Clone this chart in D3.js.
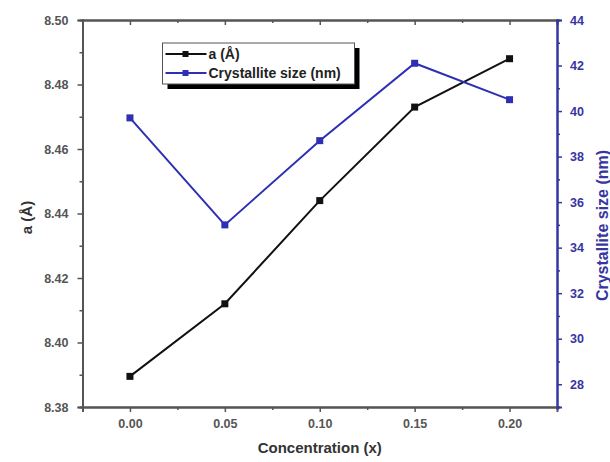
<!DOCTYPE html>
<html>
<head>
<meta charset="utf-8">
<script src="https://cdn.jsdelivr.net/npm/d3@7"></script>
<style>
  body { margin: 0; background: #fff; }
  text { font-family: "Liberation Sans", Arial, sans-serif; font-weight: bold; }
</style>
</head>
<body>
<div id="chart"></div>
<script>
// data
var concentration = [0.00, 0.05, 0.10, 0.15, 0.20];
var latticeA = [8.3895, 8.412, 8.444, 8.473, 8.488];
var crystalliteSize = [39.7, 35.0, 38.7, 42.1, 40.5];
var xTicks = [0.00, 0.05, 0.10, 0.15, 0.20];
var leftTicks = [8.38, 8.40, 8.42, 8.44, 8.46, 8.48, 8.50];
var rightTicks = [28, 30, 32, 34, 36, 38, 40, 42, 44];
var seriesNames = ["a (\u00c5)", "Crystallite size (nm)"];

var W = 610, H = 462;
var margin = {top: 20, right: 53, bottom: 55, left: 82.5};
var width = W - margin.left - margin.right;
var height = H - margin.top - margin.bottom;

var axisGrey = "#555";
var blue = "#2f2fb4";
var navy = "#3636a0";

var svg = d3.select("#chart")
    .append("svg")
    .attr("width", W)
    .attr("height", H)
    .append("g")
    .attr("transform", "translate(" + margin.left + "," + margin.top + ")");

var x = d3.scaleLinear().domain([-0.025, 0.225]).range([0, width]);
var yL = d3.scaleLinear().domain([8.38, 8.50]).range([height, 0]);
var yR = d3.scaleLinear().domain([27, 44]).range([height, 0]);

var minorX = d3.range(-0.025, 0.2251, 0.025).filter(function(v) {
    return Math.abs(Math.round(v * 20) - v * 20) > 1e-6; });
var minorL = d3.range(8.39, 8.50, 0.02);
var minorR = d3.range(27, 44, 2);

function styleAxis(g, color, fontSize) {
    g.selectAll(".domain").attr("stroke", color).attr("stroke-width", 2);
    g.selectAll(".tick line").attr("stroke", color).attr("stroke-width", 1.5);
    g.selectAll(".tick text").attr("fill", color)
        .style("font-size", fontSize + "px");
}

// minor ticks first, majors drawn over
svg.append("g")
    .attr("transform", "translate(0," + height + ")")
    .call(d3.axisBottom(x).tickValues(minorX).tickSize(3).tickFormat(""))
    .call(styleAxis, axisGrey, 12);
svg.append("g")
    .attr("transform", "translate(0," + height + ")")
    .call(d3.axisBottom(x).tickValues(xTicks).tickSize(5).tickPadding(7)
        .tickFormat(d3.format(".2f")))
    .call(styleAxis, axisGrey, 12.5);

// top mirror axis, ticks pointing in
svg.append("g")
    .call(d3.axisTop(x).tickValues(minorX).tickSize(-3).tickFormat(""))
    .call(styleAxis, axisGrey, 12);
svg.append("g")
    .call(d3.axisTop(x).tickValues(xTicks).tickSize(-5).tickFormat(""))
    .call(styleAxis, axisGrey, 12);

// left axis
svg.append("g")
    .call(d3.axisLeft(yL).tickValues(minorL).tickSize(3).tickFormat(""))
    .call(styleAxis, axisGrey, 12);
svg.append("g")
    .call(d3.axisLeft(yL).tickValues(leftTicks).tickSize(5).tickPadding(9)
        .tickFormat(d3.format(".2f")))
    .call(styleAxis, axisGrey, 12.5);

// right axis (crystallite size)
svg.append("g")
    .attr("transform", "translate(" + width + ",0)")
    .call(d3.axisRight(yR).tickValues(minorR).tickSize(3).tickFormat(""))
    .call(styleAxis, navy, 12);
svg.append("g")
    .attr("transform", "translate(" + width + ",0)")
    .call(d3.axisRight(yR).tickValues(rightTicks).tickSize(5).tickPadding(8))
    .call(styleAxis, navy, 12.5);

// axis titles
svg.append("text")
    .attr("x", width / 2)
    .attr("y", height + 46)
    .attr("text-anchor", "middle")
    .attr("fill", "#333")
    .style("font-size", "15px")
    .text("Concentration (x)");
svg.append("text")
    .attr("transform", "translate(" + (-51) + "," + (height / 2 + 4) + ") rotate(-90)")
    .attr("text-anchor", "middle")
    .attr("fill", "#333")
    .style("font-size", "15px")
    .text(seriesNames[0]);
svg.append("text")
    .attr("transform", "translate(" + (width + 51) + "," + (height / 2 + 12) + ") rotate(-90)")
    .attr("text-anchor", "middle")
    .attr("fill", navy)
    .style("font-size", "16px")
    .text(seriesNames[1]);

// series
var series = [
    {name: seriesNames[0], values: latticeA, y: yL, color: "#111"},
    {name: seriesNames[1], values: crystalliteSize, y: yR, color: blue}
];

series.forEach(function(s) {
    var pts = concentration.map(function(c, i) { return [c, s.values[i]]; });
    svg.append("path")
        .datum(pts)
        .attr("fill", "none")
        .attr("stroke", s.color)
        .attr("stroke-width", 2)
        .attr("d", d3.line()
            .x(function(d) { return x(d[0]); })
            .y(function(d) { return s.y(d[1]); }));
    svg.selectAll(null)
        .data(pts)
        .enter()
        .append("rect")
        .attr("x", function(d) { return x(d[0]) - 3.5; })
        .attr("y", function(d) { return s.y(d[1]) - 3.5; })
        .attr("width", 7)
        .attr("height", 7)
        .attr("fill", s.color);
});

// legend with drop shadow
var lg = svg.append("g").attr("transform", "translate(80,23)");
lg.append("rect").attr("x", 5).attr("y", 5).attr("width", 192).attr("height", 41)
    .attr("fill", "#000");
lg.append("rect").attr("x", 0).attr("y", 0).attr("width", 192).attr("height", 41)
    .attr("fill", "#fff").attr("stroke", "#555").attr("stroke-width", 1);
series.forEach(function(s, i) {
    var ly = 11 + i * 19;
    lg.append("line").attr("x1", 3).attr("x2", 44).attr("y1", ly).attr("y2", ly)
        .attr("stroke", s.color).attr("stroke-width", 2);
    lg.append("rect").attr("x", 20).attr("y", ly - 3).attr("width", 6).attr("height", 6)
        .attr("fill", s.color);
    lg.append("text").attr("x", 46).attr("y", ly + 5)
        .attr("fill", "#222")
        .style("font-size", "14px")
        .text(s.name);
});
</script>
</body>
</html>
